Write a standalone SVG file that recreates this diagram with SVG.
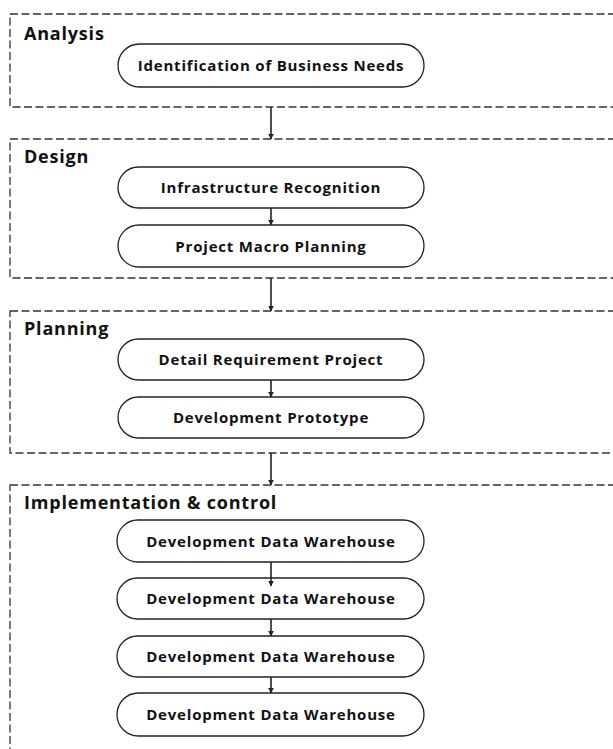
<svg xmlns="http://www.w3.org/2000/svg" width="613" height="749" viewBox="0 0 613 749">
<defs>
<marker id="ah" viewBox="0 0 10 10" refX="9" refY="5" markerWidth="6" markerHeight="6" orient="auto" markerUnits="userSpaceOnUse">
<path d="M0,0 L10,5 L0,10 z" fill="#222"/>
</marker>
<style>
.grp{fill:none;stroke:#333;stroke-width:1.3;stroke-dasharray:8 3.5}
.node{fill:#fff;stroke:#222;stroke-width:1.3}
.lbl{font-family:"Open Sans","Liberation Sans",sans-serif;font-weight:700;font-size:18px;letter-spacing:0.8px;fill:#111}
.txt{font-family:"Open Sans","Liberation Sans",sans-serif;font-weight:700;font-size:15px;letter-spacing:0.8px;fill:#111;text-anchor:middle}
.con{stroke:#222;stroke-width:1.6;fill:none;marker-end:url(#ah)}
</style>
</defs>
<rect width="613" height="749" fill="#fff"/>
<g id="grp-analysis">
<rect class="grp" x="10" y="14" width="620" height="93"/>
<text class="lbl" x="24" y="40">Analysis</text>
</g>
<g id="grp-design">
<rect class="grp" x="10" y="139" width="620" height="139"/>
<text class="lbl" x="24" y="163">Design</text>
</g>
<g id="grp-planning">
<rect class="grp" x="10" y="311" width="620" height="142"/>
<text class="lbl" x="24" y="335">Planning</text>
</g>
<g id="grp-impl">
<rect class="grp" x="10" y="485" width="620" height="280"/>
<text class="lbl" x="24" y="509">Implementation &amp; control</text>
</g>
<g id="n1"><rect class="node" x="118" y="44" width="306" height="43" rx="21.5"/><text class="txt" x="271" y="71">Identification of Business Needs</text></g>
<g id="n2"><rect class="node" x="118" y="167" width="306" height="41" rx="20.5"/><text class="txt" x="271" y="193">Infrastructure Recognition</text></g>
<g id="n3"><rect class="node" x="118" y="225" width="306" height="42" rx="21"/><text class="txt" x="271" y="252">Project Macro Planning</text></g>
<g id="n4"><rect class="node" x="118" y="339" width="306" height="41" rx="20.5"/><text class="txt" x="271" y="365">Detail Requirement Project</text></g>
<g id="n5"><rect class="node" x="118" y="397" width="306" height="41" rx="20.5"/><text class="txt" x="271" y="423">Development Prototype</text></g>
<g id="n6"><rect class="node" x="117" y="520" width="307" height="42" rx="21"/><text class="txt" x="271" y="547">Development Data Warehouse</text></g>
<g id="n7"><rect class="node" x="117" y="578" width="307" height="41" rx="20.5"/><text class="txt" x="271" y="604">Development Data Warehouse</text></g>
<g id="n8"><rect class="node" x="117" y="636" width="307" height="41" rx="20.5"/><text class="txt" x="271" y="662">Development Data Warehouse</text></g>
<g id="n9"><rect class="node" x="117" y="693" width="307" height="43" rx="21.5"/><text class="txt" x="271" y="720">Development Data Warehouse</text></g>
<g id="connectors">
<line class="con" x1="271" y1="107" x2="271" y2="139"/>
<line class="con" x1="271" y1="208" x2="271" y2="225"/>
<line class="con" x1="271" y1="278" x2="271" y2="311"/>
<line class="con" x1="271" y1="380" x2="271" y2="397"/>
<line class="con" x1="271" y1="453" x2="271" y2="485"/>
<line class="con" x1="271" y1="562" x2="271" y2="586"/>
<line class="con" x1="271" y1="619" x2="271" y2="636"/>
<line class="con" x1="271" y1="677" x2="271" y2="693"/>
</g>
</svg>
